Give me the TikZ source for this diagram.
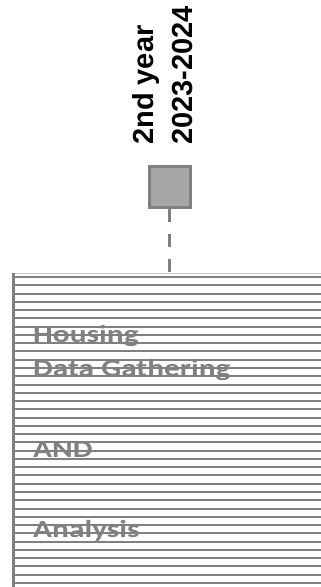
\documentclass[tikz,border=0pt]{standalone}
\usepackage{fontspec}
\setmainfont{Carlito}
\newfontfamily\arialish{Liberation Sans}
\definecolor{gr}{HTML}{808080}
\definecolor{sqfill}{HTML}{A6A6A6}
\definecolor{toplight}{HTML}{C8C8C8}
\tikzset{
  vlabel/.style={rotate=90, anchor=base west, inner sep=0pt, text=black,
    font=\arialish\fontsize{29}{35}\selectfont\bfseries},
  boxlabel/.style={anchor=base west, inner sep=0pt, text=gr,
    font=\fontsize{24.5}{29}\selectfont\bfseries},
  hline/.style={draw=gr, line width=2pt},
  marker/.style={draw=gr, fill=sqfill, line width=3pt, minimum size=41pt, inner sep=0pt},
  connector/.style={draw=gr, line width=3pt, dash pattern=on 13pt off 12pt}
}
\begin{document}
\begin{tikzpicture}[x=1pt,y=-1pt]
\useasboundingbox (0,0) rectangle (321,587);
% year labels
\node[vlabel] (yr) at (153,145) {2nd year};
\node[vlabel] (dates) at (192,145) {2023-2024};
% marker square
\node[marker] (sq) at (169.5,186.5) {};
\coordinate (boxtop) at (169.5,274);
\draw[connector] (sq.south) -- (boxtop);
% box
\draw[toplight, line width=1pt] (11.5,273.5) -- (321,273.5);
\node[boxlabel] (t1) at (33,342) {\scalebox{1.28}[1]{Housing}};
\node[boxlabel] (t2) at (33,376) {\scalebox{1.28}[1]{Data Gathering}};
\node[boxlabel] (t3) at (33,457) {\scalebox{1.28}[1]{AND}};
\node[boxlabel] (t4) at (33,537) {\scalebox{1.28}[1]{Analysis}};
\foreach \k in {0,...,37}{
  \draw[hline] (13,{277+8.27*\k}) -- (321,{277+8.27*\k});
}
\draw[gr, line width=3pt] (13,272.5) -- (13,587);
\end{tikzpicture}
\end{document}
